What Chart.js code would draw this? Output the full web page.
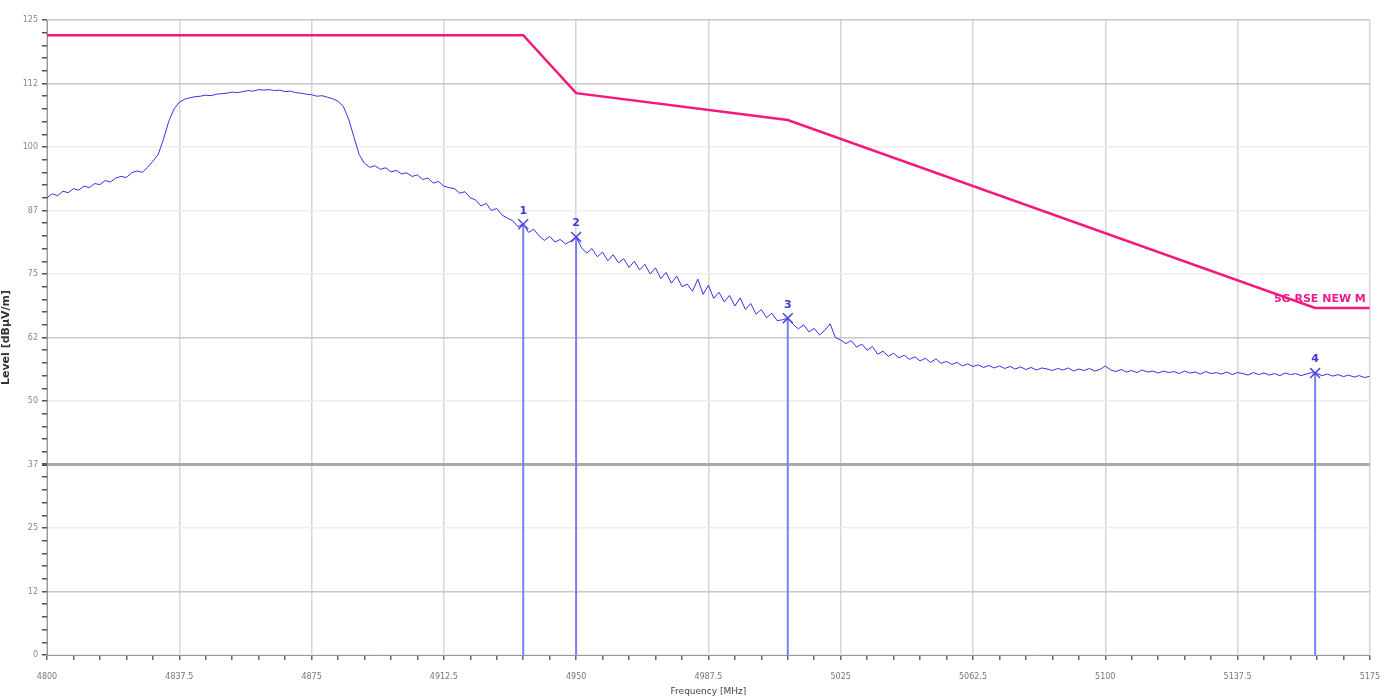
<!DOCTYPE html>
<html>
<head>
<meta charset="utf-8">
<script src="https://cdn.jsdelivr.net/npm/chart.js@4.4.1/dist/chart.umd.min.js"></script>
<style>
html,body{margin:0;padding:0;background:#fff;}
#wrap{width:1392px;height:697px;position:relative;}
</style>
</head>
<body>
<div id="wrap"><canvas id="c" width="1392" height="697"></canvas></div>
<script>
// ---- data ----
const freqStart = 4800;
const freqStep = 1.5;
const traceLevels = [
90.0, 90.8, 90.4, 91.3, 91.0, 91.8, 91.5, 92.3, 92.0, 92.8,
92.6, 93.4, 93.1, 93.9, 94.2, 94.0, 94.9, 95.3, 95.0, 96.0,
97.2, 98.5, 101.5, 105.0, 107.5, 108.8, 109.4, 109.7, 109.9, 110.0,
110.2, 110.1, 110.4, 110.5, 110.6, 110.8, 110.7, 110.9, 111.1, 111.0,
111.3, 111.2, 111.3, 111.1, 111.2, 110.9, 111.0, 110.7, 110.6, 110.4,
110.3, 110.0, 110.1, 109.8, 109.5, 109.0, 108.0, 105.5, 102.0, 98.5,
96.8, 96.0, 96.3, 95.6, 95.9, 95.1, 95.4, 94.7, 94.9, 94.2,
94.5, 93.6, 93.9, 92.9, 93.2, 92.3, 92.0, 91.8, 90.9, 91.2,
90.0, 89.6, 88.4, 88.9, 87.5, 87.9, 86.6, 86.0, 85.5, 84.3,
84.9, 83.2, 83.8, 82.5, 81.6, 82.4, 81.3, 81.8, 80.9, 81.5,
82.3, 80.2, 79.1, 80.0, 78.4, 79.3, 77.6, 78.8, 77.2, 78.0,
76.3, 77.5, 75.8, 76.9, 75.0, 76.2, 74.1, 75.3, 73.2, 74.6,
72.5, 73.0, 71.6, 74.0, 71.0, 72.8, 70.2, 71.4, 69.5, 70.8,
68.7, 70.3, 68.0, 69.2, 67.1, 68.0, 66.4, 67.3, 65.8, 66.0,
66.3, 65.1, 64.2, 65.0, 63.6, 64.3, 63.0, 63.9, 65.2, 62.5,
62.0, 61.3, 61.9, 60.6, 61.2, 60.0, 60.7, 59.2, 59.8, 58.8,
59.4, 58.5, 59.0, 58.2, 58.7, 57.9, 58.4, 57.6, 58.3, 57.4,
57.8, 57.2, 57.6, 56.9, 57.3, 56.8, 57.1, 56.6, 57.0, 56.5,
56.9, 56.4, 56.8, 56.3, 56.7, 56.2, 56.6, 56.1, 56.5, 56.3,
56.0, 56.4, 56.1, 56.5, 55.9, 56.3, 56.0, 56.4, 55.9, 56.2,
56.9, 56.1, 55.8, 56.2, 55.7, 56.0, 55.6, 56.1, 55.7, 55.9,
55.5, 55.9, 55.6, 55.8, 55.4, 55.9, 55.5, 55.7, 55.3, 55.8,
55.4, 55.6, 55.3, 55.7, 55.2, 55.6, 55.4, 55.1, 55.6, 55.2,
55.5, 55.1, 55.4, 55.0, 55.5, 55.2, 55.4, 55.0, 55.3, 55.6,
55.4, 55.0, 55.3, 54.9, 55.2, 54.8, 55.1, 54.7, 55.0, 54.6,
54.9
];
const maskFreqs  = [4800, 4935, 4950, 5010, 5159.5, 5175];
const maskLevels = [122.0, 122.0, 110.6, 105.3, 68.3, 68.3];
const maskName = "5G RSE NEW M";
const markerNames  = ["1", "2", "3", "4"];
const markerFreqs  = [4935, 4950, 5010, 5159.5];
const markerLevels = [84.8, 82.3, 66.3, 55.5];
const xMin = 4800, xMax = 5175, xMajor = 37.5, xMinor = 7.5;
const yMin = 0, yMax = 125, yMajor = 12.5, yMinor = 2.5;
const xTitle = "Frequency [MHz]";
const yTitle = "Level [dBµV/m]";

// ---- build ----
const tracePts = traceLevels.map((v, i) => ({x: freqStart + i * freqStep, y: v}));
const maskPts = maskFreqs.map((f, i) => ({x: f, y: maskLevels[i]}));
const markerLineSets = markerFreqs.map((f, i) => ({
  type: 'line',
  data: [{x: f, y: yMin}, {x: f, y: markerLevels[i]}],
  borderColor: '#7a80f2',
  borderWidth: 2,
  pointRadius: 0,
  order: 3
}));

const isMult = (v, m) => Math.abs(v / m - Math.round(v / m)) < 1e-6;

const labelsPlugin = {
  id: 'labelsPlugin',
  afterDatasetsDraw(chart) {
    const ctx = chart.ctx, xs = chart.scales.x, ys = chart.scales.y;
    ctx.save();
    ctx.fillStyle = '#3b3bd6';
    ctx.font = 'bold 11px "DejaVu Sans", sans-serif';
    ctx.textAlign = 'center';
    ctx.textBaseline = 'bottom';
    markerFreqs.forEach((f, i) => {
      ctx.fillText(markerNames[i], xs.getPixelForValue(f), ys.getPixelForValue(markerLevels[i]) - 8);
    });
    ctx.fillStyle = '#ee1b8d';
    ctx.font = 'bold 11px "DejaVu Sans", sans-serif';
    ctx.textAlign = 'right';
    ctx.textBaseline = 'bottom';
    const lf = maskFreqs[maskFreqs.length - 1], ll = maskLevels[maskLevels.length - 1];
    ctx.fillText(maskName, xs.getPixelForValue(lf) - 4, ys.getPixelForValue(ll) - 3);
    ctx.restore();
  }
};

new Chart(document.getElementById('c'), {
  type: 'line',
  data: {
    datasets: [
      {
        data: maskPts, borderColor: '#f5197f', borderWidth: 2.5, pointRadius: 0, tension: 0, order: 1
      },
      {
        data: tracePts, borderColor: '#3434e6', borderWidth: 1, pointRadius: 0, tension: 0, order: 2
      },
      ...markerLineSets,
      {
        type: 'scatter',
        data: markerFreqs.map((f, i) => ({x: f, y: markerLevels[i]})),
        pointStyle: 'crossRot', pointRadius: 7, borderColor: '#4a4ae0', borderWidth: 1.5,
        showLine: false, order: 0
      }
    ]
  },
  options: {
    responsive: false,
    animation: false,
    events: [],
    layout: {padding: {top: 20, right: 22, left: 0, bottom: 0}},
    plugins: {legend: {display: false}, tooltip: {enabled: false}},
    scales: {
      x: {
        type: 'linear', min: xMin, max: xMax,
        afterFit(s) { s.height = 42; },
        ticks: {
          stepSize: xMinor, autoSkip: false, maxRotation: 0, padding: 12,
          color: '#777', font: {size: 8, family: 'DejaVu Sans'},
          callback: v => isMult(v, xMajor) ? String(v) : ''
        },
        grid: {
          color: c => isMult(c.tick.value, xMajor) ? '#d6d6d6' : 'rgba(0,0,0,0)',
          lineWidth: 1.5,
          tickColor: '#666', tickLength: 5, drawTicks: true
        },
        border: {color: '#999', width: 1},
        title: {display: true, text: xTitle, color: '#444', font: {size: 9, family: 'DejaVu Sans'}, padding: {top: 0, bottom: 0}}
      },
      y: {
        type: 'linear', min: yMin, max: yMax,
        afterFit(s) { s.width = 47; },
        ticks: {
          stepSize: yMinor, autoSkip: false, padding: 4,
          color: '#888', font: {size: 8, family: 'DejaVu Sans'},
          callback: v => isMult(v, yMajor) ? String(Math.floor(v)) : ''
        },
        grid: {
          color: c => {
            const v = c.tick.value;
            if (!isMult(v, yMajor)) return 'rgba(0,0,0,0)';
            if (Math.abs(v - 37.5) < 1e-6) return '#a9a9a9';
            if ([125, 112.5, 62.5, 12.5].some(t => Math.abs(v - t) < 1e-6)) return '#c8c8c8';
            return '#eeeeee';
          },
          lineWidth: c => Math.abs(c.tick.value - 37.5) < 1e-6 ? 3 : 1.5,
          tickColor: '#555', tickLength: 5
        },
        border: {color: '#999', width: 1},
        title: {display: true, text: yTitle, color: '#333', font: {size: 11, weight: 'bold', family: 'DejaVu Sans'}, padding: {top: 0, bottom: 2}}
      }
    }
  },
  plugins: [labelsPlugin]
});
</script>
</body>
</html>
